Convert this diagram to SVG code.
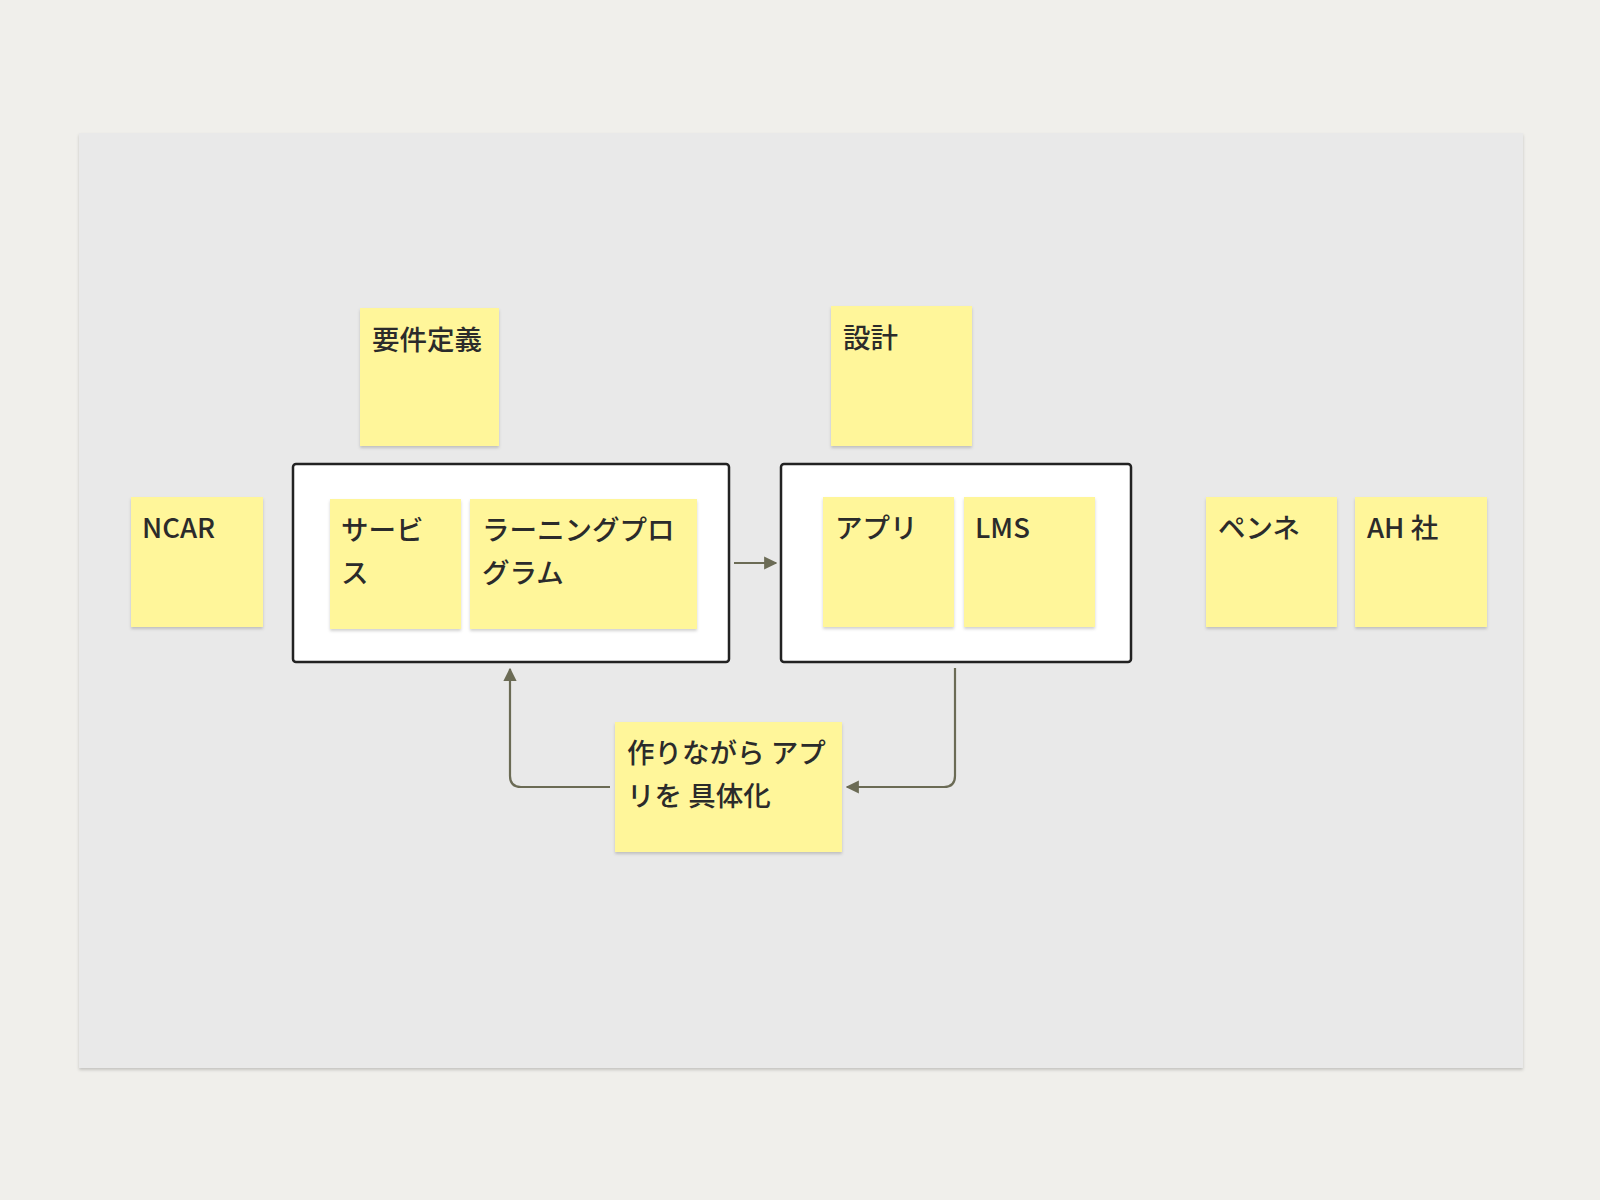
<svg xmlns="http://www.w3.org/2000/svg" width="1600" height="1200" viewBox="0 0 1600 1200">
<defs>
<filter id="sh" x="-10%" y="-10%" width="120%" height="125%"><feDropShadow dx="0" dy="2" stdDeviation="1.5" flood-color="#000" flood-opacity="0.18"/></filter>
<marker id="ar" viewBox="0 0 10 10" refX="9" refY="5" markerWidth="6" markerHeight="6" orient="auto-start-reverse"><path d="M0,0 L10,5 L0,10 z" fill="#6b6b55"/></marker>
</defs>
<style>
.st{fill:#fff69a;filter:url(#sh)}
.bx{fill:#fff;stroke:#222;stroke-width:2.5}
.t{font-family:"Noto Sans CJK JP","Liberation Sans",sans-serif;font-size:27.5px;font-weight:500;fill:#2b2b2b}
.c{fill:none;stroke:#6b6b55;stroke-width:2.2}
</style>
<rect width="1600" height="1200" fill="#f0efeb"/>
<rect x="79" y="133" width="1444" height="935" fill="#e9e9e9" filter="url(#sh)"/>
<g id="youken"><rect class="st" x="360" y="308" width="139" height="138"/><text class="t" x="372" y="350">要件定義</text></g>
<g id="sekkei"><rect class="st" x="831" y="306" width="141" height="140"/><text class="t" x="843" y="348">設計</text></g>
<g id="ncar"><rect class="st" x="131" y="497" width="132" height="130"/><text class="t" x="142" y="538">NCAR</text></g>
<g id="box1"><rect class="bx" x="293" y="464" width="436" height="198" rx="3"/></g>
<g id="service"><rect class="st" x="330" y="499" width="131" height="130"/><text class="t" x="341" y="540">サービ<tspan x="341" dy="43">ス</tspan></text></g>
<g id="learning"><rect class="st" x="470" y="499" width="227" height="130"/><text class="t" x="482" y="540">ラーニングプロ<tspan x="482" dy="43">グラム</tspan></text></g>
<g id="box2"><rect class="bx" x="781" y="464" width="350" height="198" rx="3"/></g>
<g id="appli"><rect class="st" x="823" y="497" width="131" height="130"/><text class="t" x="835" y="538">アプリ</text></g>
<g id="lms"><rect class="st" x="964" y="497" width="131" height="130"/><text class="t" x="975" y="538">LMS</text></g>
<g id="penne"><rect class="st" x="1206" y="497" width="131" height="130"/><text class="t" x="1218" y="538">ペンネ</text></g>
<g id="ah"><rect class="st" x="1355" y="497" width="132" height="130"/><text class="t" x="1367" y="538">AH 社</text></g>
<g id="tsukuri"><rect class="st" x="615" y="722" width="227" height="130"/><text class="t" x="627" y="763">作りながら アプ<tspan x="627" dy="43">リを 具体化</tspan></text></g>
<g id="connectors">
<path class="c" d="M734,563 L776,563" marker-end="url(#ar)"/>
<path class="c" d="M955,668 L955,776 Q955,787 944,787 L847,787" marker-end="url(#ar)"/>
<path class="c" d="M610,787 L521,787 Q510,787 510,776 L510,669" marker-end="url(#ar)"/>
</g>
</svg>
